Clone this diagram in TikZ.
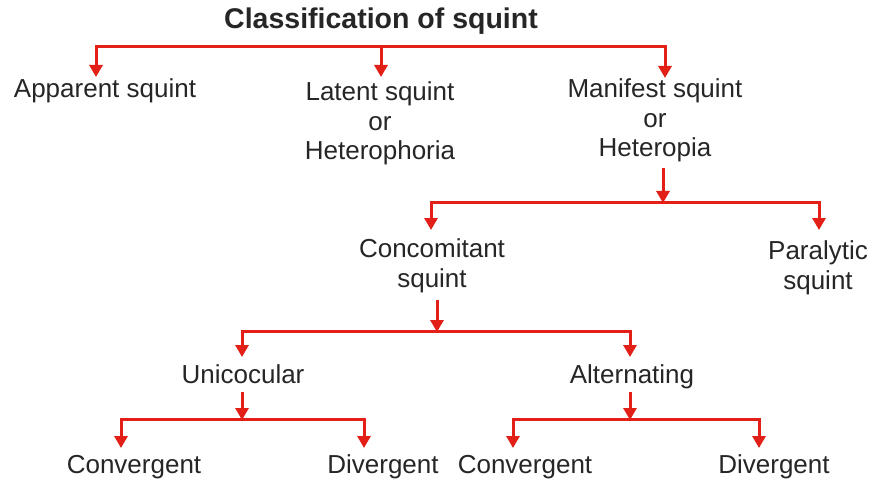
\documentclass[tikz,border=0pt]{standalone}
\usepackage{fontspec}
\setmainfont{Liberation Sans}
\usetikzlibrary{arrows.meta}
\definecolor{arrred}{RGB}{226,32,24}
\definecolor{txt}{RGB}{38,38,38}
\begin{document}
\begin{tikzpicture}[x=1pt,y=-1pt,
 lbl/.style={font=\fontsize{26}{29.5}\selectfont, text=txt, inner sep=0pt, anchor=base, align=center},
 ttl/.style={font=\fontsize{28.5}{32}\selectfont\bfseries, text=txt, inner sep=0pt, anchor=base},
 arr/.style={draw=arrred, line width=3pt, -{Triangle[width=13pt,length=12pt]}}]
\useasboundingbox (0,0) rectangle (880,481);
\fill[white] (0,0) rectangle (880,481);
% texts (base anchor = baseline of the last line)
\node[ttl] (title) at (381,29) {Classification of squint};
\node[lbl] (app) at (105,98) {Apparent squint};
\node[lbl] (lat) at (380,160) {Latent squint\\or\\Heterophoria};
\node[lbl] (man) at (655,157) {Manifest squint\\or\\Heteropia};
\node[lbl] (con) at (432,287) {Concomitant\\squint};
\node[lbl] (par) at (818,289) {Paralytic\\squint};
\node[lbl] (uni) at (243,383) {Unicocular};
\node[lbl] (alt) at (632,383) {Alternating};
\node[lbl] (cv1) at (134,473) {Convergent};
\node[lbl] (dv1) at (383,473) {Divergent};
\node[lbl] (cv2) at (525,473) {Convergent};
\node[lbl] (dv2) at (774,473) {Divergent};
% level 1
\coordinate (b1) at (381,47);
\coordinate (tApp) at (96,77);
\coordinate (tLat) at (381,77);
\coordinate (tMan) at (665,78);
\draw[arr] (b1) -| (tApp);
\draw[arr] (b1) -| (tMan);
\draw[arr] (b1) -- (tLat);
% level 2
\coordinate (sMan) at (663,168);
\coordinate (b2) at (663,202);
\coordinate (tCon) at (431,230);
\coordinate (tPar) at (819,230);
\draw[arr] (sMan) -- ([yshift=-1pt]b2);
\draw[arr] (b2) -| (tCon);
\draw[arr] (b2) -| (tPar);
% level 3
\coordinate (sCon) at (437,300);
\coordinate (b3) at (437,331);
\coordinate (tUni) at (242,357);
\coordinate (tAlt) at (630,357);
\draw[arr] (sCon) -- ([yshift=-1pt]b3);
\draw[arr] (b3) -| (tUni);
\draw[arr] (b3) -| (tAlt);
% level 4
\coordinate (sUni) at (242,392);
\coordinate (b4) at (242,419);
\coordinate (tCv1) at (121,448);
\coordinate (tDv1) at (364,448);
\draw[arr] (sUni) -- ([yshift=-1pt]b4);
\draw[arr] (b4) -| (tCv1);
\draw[arr] (b4) -| (tDv1);
\coordinate (sAlt) at (630,392);
\coordinate (b5) at (630,419);
\coordinate (tCv2) at (513,448);
\coordinate (tDv2) at (759,448);
\draw[arr] (sAlt) -- ([yshift=-1pt]b5);
\draw[arr] (b5) -| (tCv2);
\draw[arr] (b5) -| (tDv2);
\end{tikzpicture}
\end{document}
